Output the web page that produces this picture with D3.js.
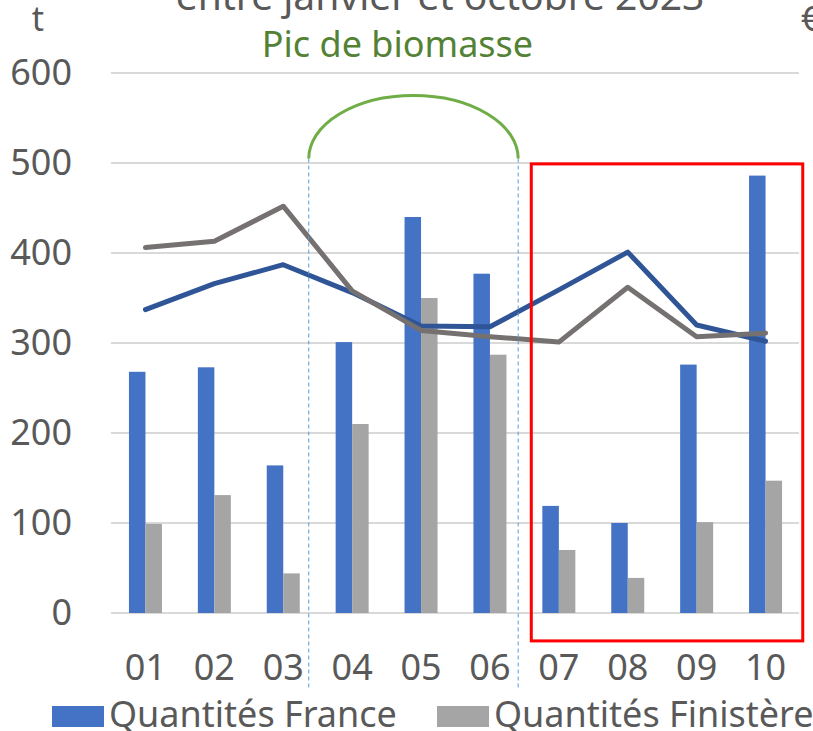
<!DOCTYPE html>
<html>
<head>
<meta charset="utf-8">
<script src="https://cdn.jsdelivr.net/npm/d3@7"></script>
<style>
  body { margin: 0; background: #fff; }
  text { font-family: "Noto Sans", "Open Sans", sans-serif; fill: #595959; }
</style>
</head>
<body>
<svg id="chart" width="813" height="731"></svg>
<script>
// months (x categories)
var months = ["01", "02", "03", "04", "05", "06", "07", "08", "09", "10"];
// bars, tonnes
var qteFrance = [268, 273, 164, 301, 440, 377, 119, 100, 276, 486];
var qteFinistere = [99, 131, 44, 210, 350, 287, 70, 39, 101, 147];
// lines, secondary (€) axis, read on the same grid
var prixFrance = [337, 366, 387, 356, 319, 318, 359, 401, 320, 302];
var prixFinistere = [406, 413, 452, 358, 314, 307, 301, 362, 307, 311];
var yTicks = [0, 100, 200, 300, 400, 500, 600];

var svg = d3.select("#chart");
var margin = { top: 73, left: 111, right: 13, bottom: 118 };
var width = 813 - margin.left - margin.right,
  height = 731 - margin.top - margin.bottom;

var g = svg.append("g").attr("transform", "translate(" + margin.left + "," + margin.top + ")");

// scales
var x = d3.scaleBand().domain(months).range([0, width]);
var xIdx = d3.scaleLinear().domain([0, months.length]).range([0, width]);
var y = d3.scaleLinear().domain([0, 600]).range([height, 0]);
var yEuro = d3.scaleLinear().domain([0, 600]).range([height, 0]);
var xSub = d3.scaleBand().domain(["fr", "fi"]).range([0, 33]);
var barOffset = (x.bandwidth() - 33) / 2;

// gridlines
g.selectAll(".grid")
  .data(yTicks)
  .enter()
  .append("line")
  .attr("x1", 0)
  .attr("x2", width - 1)
  .attr("y1", function (d) { return y(d); })
  .attr("y2", function (d) { return y(d); })
  .attr("stroke", "#d9d9d9")
  .attr("stroke-width", 2);

// y axis labels
var yAxis = g.append("g").call(d3.axisLeft(y).tickValues(yTicks).tickSize(0).tickPadding(39));
yAxis.select(".domain").remove();
yAxis.selectAll("text").attr("font-size", 36).style("font-family", "'Noto Sans', sans-serif").attr("fill", "#595959");

// x axis labels
var xAxis = g.append("g")
  .attr("transform", "translate(0," + height + ")")
  .call(d3.axisBottom(x).tickSize(0).tickPadding(41));
xAxis.select(".domain").remove();
xAxis.selectAll("text").attr("font-size", 36).style("font-family", "'Noto Sans', sans-serif").attr("fill", "#595959");

// bars
var groups = g.selectAll(".month")
  .data(months)
  .enter()
  .append("g")
  .attr("transform", function (d) { return "translate(" + (x(d) + barOffset) + ",0)"; });

groups.append("rect")
  .attr("x", xSub("fr"))
  .attr("width", xSub.bandwidth())
  .attr("y", function (d, i) { return y(qteFrance[i]); })
  .attr("height", function (d, i) { return height - y(qteFrance[i]); })
  .attr("fill", "#4472c4");

groups.append("rect")
  .attr("x", xSub("fi"))
  .attr("width", xSub.bandwidth())
  .attr("y", function (d, i) { return y(qteFinistere[i]); })
  .attr("height", function (d, i) { return height - y(qteFinistere[i]); })
  .attr("fill", "#a5a5a5");

// price lines
var line = d3.line()
  .x(function (d, i) { return x(months[i]) + x.bandwidth() / 2; })
  .y(function (d) { return yEuro(d); });

g.append("path")
  .datum(prixFrance)
  .attr("d", line)
  .attr("fill", "none")
  .attr("stroke", "#2f5597")
  .attr("stroke-width", 5)
  .attr("stroke-linecap", "round")
  .attr("stroke-linejoin", "round");

g.append("path")
  .datum(prixFinistere)
  .attr("d", line)
  .attr("fill", "none")
  .attr("stroke", "#767171")
  .attr("stroke-width", 5)
  .attr("stroke-linecap", "round")
  .attr("stroke-linejoin", "round");

// biomass peak annotation
var peakStart = xIdx(2.87), peakEnd = xIdx(5.91);
[peakStart, peakEnd].forEach(function (px) {
  g.append("line")
    .attr("x1", px).attr("x2", px)
    .attr("y1", y(505)).attr("y2", y(-83))
    .attr("stroke", "#5b9bd5")
    .attr("stroke-width", 1)
    .attr("stroke-dasharray", "4,3");
});

var rx = (peakEnd - peakStart) / 2, ry = y(505) - y(575);
g.append("path")
  .attr("d", "M" + peakStart + "," + y(505) + " A" + rx + "," + ry + " 0 0 1 " + peakEnd + "," + y(505))
  .attr("fill", "none")
  .attr("stroke", "#70ad47")
  .attr("stroke-width", 3);

g.append("text")
  .attr("x", (peakStart + peakEnd) / 2 - 16)
  .attr("y", -16)
  .attr("text-anchor", "middle")
  .attr("font-size", 36)
  .style("fill", "#548235")
  .text("Pic de biomasse");

// red highlight box
g.append("rect")
  .attr("x", xIdx(6.1))
  .attr("y", y(499))
  .attr("width", xIdx(10.04) - xIdx(6.1))
  .attr("height", y(-31) - y(499))
  .attr("fill", "none")
  .attr("stroke", "#ff0000")
  .attr("stroke-width", 3);

// title (cut off at top) and units
svg.append("text")
  .attr("x", 440)
  .attr("y", 10)
  .attr("text-anchor", "middle")
  .attr("font-size", 39)
  .text("entre janvier et octobre 2023");

svg.append("text").attr("x", 38).attr("y", 31).attr("text-anchor", "middle").attr("font-size", 34).text("t");
svg.append("text").attr("x", 801).attr("y", 31).attr("font-size", 34).text("€");

// legend
var legend = [
  { label: "Quantités France", color: "#4472c4", x: 52 },
  { label: "Quantités Finistère", color: "#a5a5a5", x: 437 }
];
var lg = svg.selectAll(".legend")
  .data(legend)
  .enter()
  .append("g")
  .attr("transform", function (d) { return "translate(" + d.x + ",706)"; });
lg.append("rect").attr("width", 52).attr("height", 21).attr("fill", function (d) { return d.color; });
lg.append("text").attr("x", 57).attr("y", 21).attr("font-size", 36).text(function (d) { return d.label; });
</script>
</body>
</html>
